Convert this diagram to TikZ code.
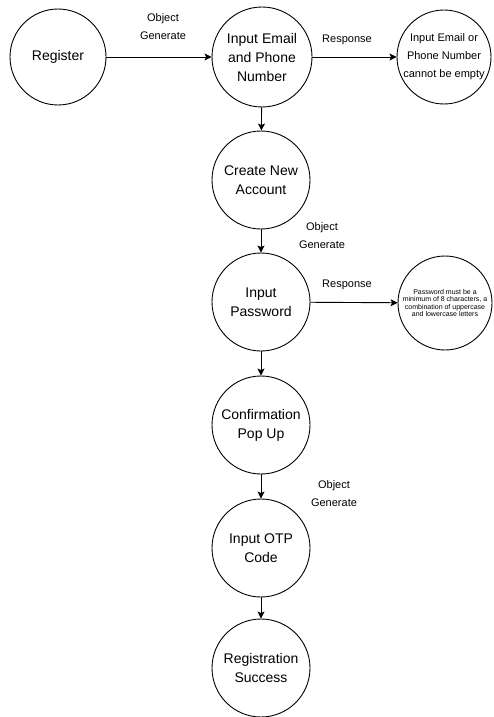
\documentclass[tikz,border=0pt]{standalone}
\usepackage{fontspec}
\setmainfont{Liberation Sans}
\usetikzlibrary{arrows.meta}
\tikzset{
    state/.style={circle,draw=black,line width=0.9pt, minimum size=98pt, inner sep=0, align=center, font=\fontsize{14}{19}\selectfont},
    msg/.style={circle,draw=black,line width=0.9pt, minimum size=94pt, inner sep=0, align=center},
    lbl/.style={align=center, inner sep=0, font=\fontsize{11}{18}\selectfont},
    flow/.style={line width=0.9pt, -{Stealth[length=7pt,width=7pt,inset=1.5pt]}}
}
\begin{document}
\begin{tikzpicture}[x=1pt,y=-1pt]
    \useasboundingbox (0,0) rectangle (494,717);
    % main chain
    \node[state, minimum size=96pt] (reg) at (58,57) {Register};
    \node[state, minimum size=100pt] (email) at (262,57) {Input Email\\and Phone\\Number};
    \node[state] (create) at (261,180) {Create New\\Account};
    \node[state] (pass) at (261,302) {Input\\Password};
    \node[state] (confirm) at (261,425) {Confirmation\\Pop Up};
    \node[state] (otp) at (261,548) {Input OTP\\Code};
    \node[state] (success) at (261,668) {Registration\\Success};
    % responses
    \node[msg, font=\fontsize{11}{18}\selectfont] (empty) at (444,57) {Input Email or\\Phone Number\\cannot be empty};
    \node[msg, font=\fontsize{7}{7.5}\selectfont] (pwmsg) at (445,303) {Password must be a\\minimum of 8 characters, a\\combination of uppercase\\and lowercase letters};
    % labels
    \node[lbl] (gen1) at (163,27) {Object\\Generate};
    \node[lbl] (resp1) at (347,40) {Response};
    \node[lbl] (gen2) at (322,236) {Object\\Generate};
    \node[lbl] (resp2) at (347,285) {Response};
    \node[lbl] (gen3) at (334,494) {Object\\Generate};
    % connectors
    \draw[flow] (reg) -- (email);
    \draw[flow] (email) -- (empty);
    \draw[flow] (email) -- (create);
    \draw[flow] (create) -- (pass);
    \draw[flow] (pass) -- (pwmsg);
    \draw[flow] (pass) -- (confirm);
    \draw[flow] (confirm) -- (otp);
    \draw[flow] (otp) -- (success);
\end{tikzpicture}
\end{document}
